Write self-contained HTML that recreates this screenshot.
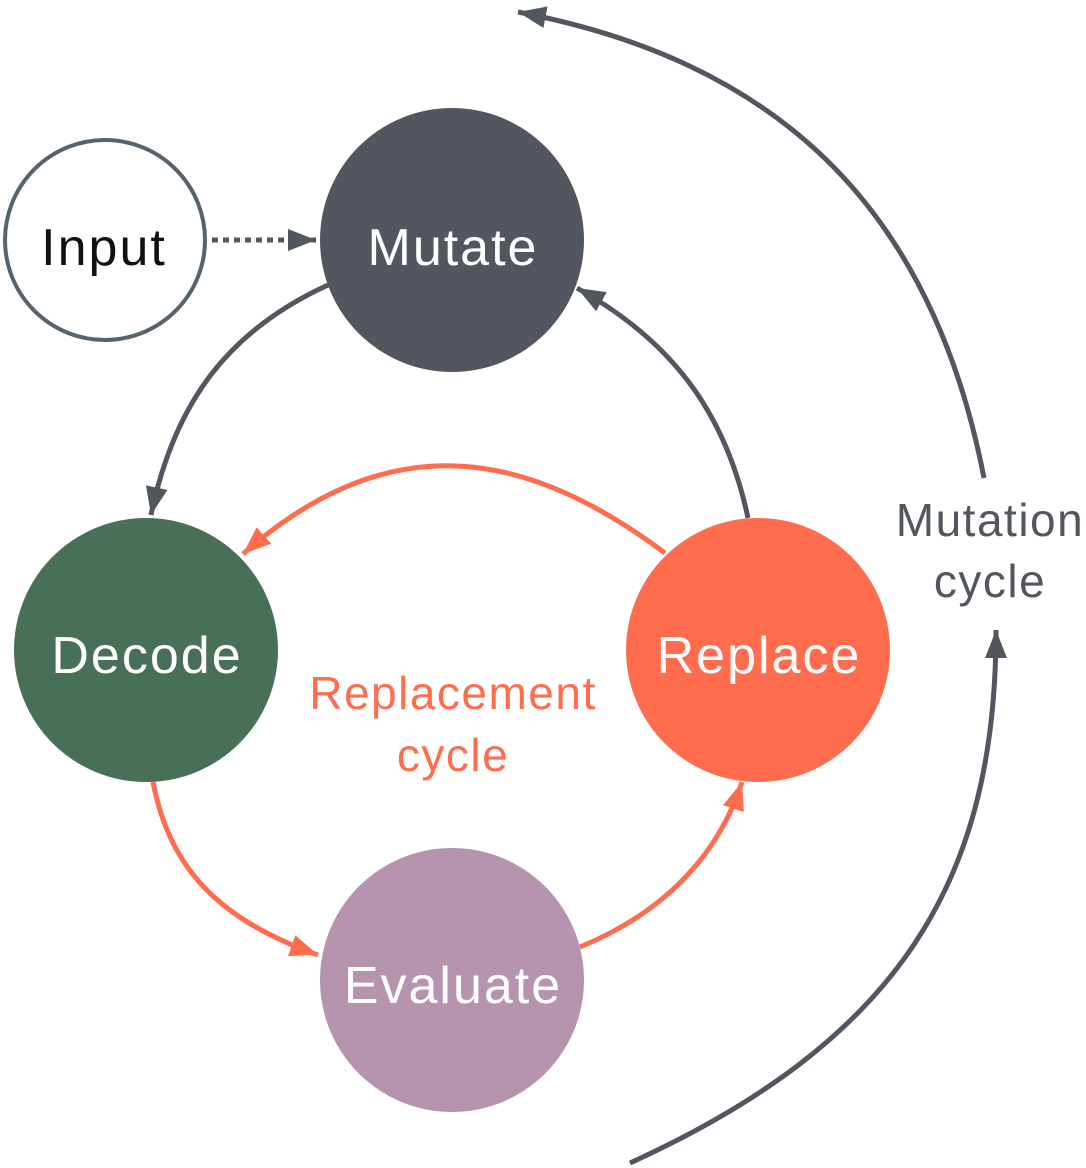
<!DOCTYPE html>
<html><head><meta charset="utf-8"><style>
html,body{margin:0;padding:0;background:#fff;}
svg{display:block;}
text{font-family:"Liberation Sans",sans-serif;}
</style></head><body>
<svg width="1086" height="1168" viewBox="0 0 1086 1168" xmlns="http://www.w3.org/2000/svg">
<defs>
<marker id="g" markerUnits="userSpaceOnUse" markerWidth="30" markerHeight="24" refX="28" refY="12" orient="auto">
<path d="M0,1 L28,12 L0,23 Z" fill="#52575f"/></marker>
<marker id="o" markerUnits="userSpaceOnUse" markerWidth="30" markerHeight="24" refX="28" refY="12" orient="auto">
<path d="M0,1 L28,12 L0,23 Z" fill="#ff6d4e"/></marker>
</defs>
<g fill="none" stroke-width="5">
<path d="M212,240 L316,240" stroke="#52575f" stroke-dasharray="6,5" marker-end="url(#g)"/>
<path d="M328,285 C230,330 175,400 151,515" stroke="#52575f" marker-end="url(#g)"/>
<path d="M748,518 C725,410 670,340 577,288" stroke="#52575f" marker-end="url(#g)"/>
<path d="M665,553 C540,460 400,415 243,554" stroke="#ff6d4e" marker-end="url(#o)"/>
<path d="M153,782 C170,870 220,920 318,955" stroke="#ff6d4e" marker-end="url(#o)"/>
<path d="M580,947 C670,910 720,850 742,782" stroke="#ff6d4e" marker-end="url(#o)"/>
<path d="M630,1163 C900,1040 996,880 996,630" stroke="#52575f" marker-end="url(#g)"/>
<path d="M984,478 C930,200 770,60 518,12" stroke="#52575f" marker-end="url(#g)"/>
</g>
<circle cx="105" cy="240" r="100" fill="#fff" stroke="#56636b" stroke-width="4"/>
<circle cx="452" cy="240" r="132" fill="#52575f"/>
<circle cx="146" cy="650" r="132" fill="#487058"/>
<circle cx="758" cy="650" r="132" fill="#ff6d4e"/>
<circle cx="452" cy="980" r="132" fill="#b794ae"/>
<g font-size="52" text-anchor="middle" letter-spacing="2">
<text x="104" y="265" fill="#111">Input</text>
<text x="453" y="265" fill="#fff">Mutate</text>
<text x="147" y="673" fill="#fff">Decode</text>
<text x="759" y="673" fill="#fff">Replace</text>
<text x="453" y="1003" fill="#fff">Evaluate</text>
</g>
<g font-size="46" text-anchor="middle" letter-spacing="1.5">
<text x="453" y="709" fill="#ff6d4e">Replacement</text>
<text x="453" y="771" fill="#ff6d4e">cycle</text>
<text x="990" y="536" fill="#52575f">Mutation</text>
<text x="990" y="597" fill="#52575f">cycle</text>
</g>
</svg>
</body></html>
